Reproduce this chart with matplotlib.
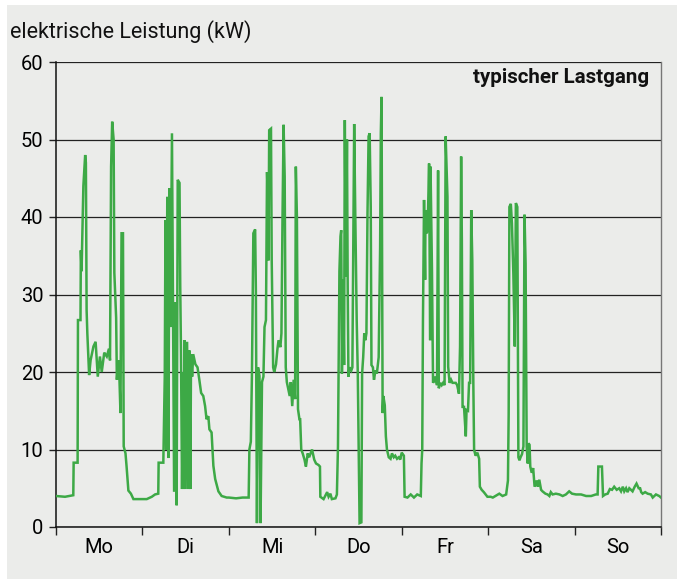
import matplotlib
matplotlib.use("Agg")
import matplotlib.pyplot as plt
from matplotlib.patches import Rectangle

plt.rcParams['font.family'] = ['Roboto', 'DejaVu Sans']

# Wochentage
days = ["Mo", "Di", "Mi", "Do", "Fr", "Sa", "So"]

mo_h = [0.0, 2.5, 4.8, 4.9, 6.0, 6.1, 6.8, 6.9, 7.1, 7.6, 8.1, 8.3, 8.5, 8.7, 9.2, 9.6,
        10.4, 11.0, 11.6, 12.2, 12.7, 13.4, 14.1, 14.7, 15.0, 15.3, 15.6, 16.0, 16.2,
        16.7, 16.9, 17.3, 17.6, 17.9, 18.2, 18.6, 18.8, 19.3, 19.6, 20.1, 20.8, 21.5]
mo_kw = [4.0, 3.9, 4.1, 8.3, 8.3, 26.7, 26.7, 35.7, 33.0, 44.0, 48.0, 47.0, 28.0, 25.0,
         19.6, 21.5, 23.3, 23.9, 19.4, 22.0, 20.0, 22.5, 22.0, 23.0, 21.5, 46.5, 52.3,
         50.0, 32.8, 27.0, 19.0, 21.5, 19.4, 14.7, 37.9, 37.9, 10.4, 9.5, 7.8, 4.7, 4.3, 3.6]

di_h = [24.0, 25.2, 26.6, 27.5, 28.4, 28.5, 29.8, 30.2, 30.4, 30.6, 30.9, 31.2, 31.5,
        31.8, 32.2, 32.6, 32.8, 33.0, 33.2, 33.5, 33.8, 34.3, 34.5, 34.7, 35.0, 35.3,
        35.5, 35.7, 36.0, 36.4, 36.8, 37.0, 37.3, 37.5, 37.8, 38.1, 38.7, 39.3, 39.8,
        40.3, 40.9, 41.4, 41.8, 42.3, 42.6, 43.2, 43.7, 44.2, 45.1, 46.0, 47.4]
di_kw = [3.6, 3.6, 3.9, 4.2, 4.3, 8.3, 8.3, 19.4, 39.6, 10.0, 42.6, 8.9, 43.7, 25.8,
         50.8, 19.6, 4.7, 4.7, 29.0, 2.8, 44.8, 44.4, 31.0, 22.8, 4.9, 20.0, 4.9, 24.1,
         4.9, 23.9, 4.9, 22.8, 4.9, 22.3, 19.4, 22.3, 21.0, 20.6, 19.0, 17.3, 16.9, 15.6,
         13.9, 14.3, 12.6, 12.2, 7.9, 6.2, 4.6, 4.0, 3.8]

mi_h = [48.0, 50.0, 51.8, 53.5, 53.7, 54.1, 54.4, 54.8, 55.3, 55.5, 55.8, 56.1, 56.5,
        56.8, 57.2, 57.6, 57.9, 58.3, 58.6, 58.9, 59.0, 59.2, 59.7, 59.9, 60.3, 60.6,
        61.1, 61.5, 61.8, 62.3, 62.6, 62.9, 63.2, 63.5, 63.8, 64.1, 64.5, 64.9, 65.2,
        65.6, 66.0, 66.4, 66.6, 66.9, 67.2, 67.6, 67.8, 68.1, 68.5, 69.0, 69.4, 69.9,
        70.3, 71.1, 71.7]
mi_kw = [3.8, 3.7, 3.8, 3.8, 10.0, 11.0, 19.4, 37.9, 38.4, 30.6, 0.5, 20.6, 19.5, 0.5,
         18.7, 19.4, 25.8, 26.7, 45.8, 40.9, 34.4, 51.2, 51.4, 34.4, 20.6, 20.0, 21.0,
         23.0, 24.1, 23.2, 25.0, 40.0, 51.9, 45.2, 20.6, 18.7, 17.8, 16.9, 18.7, 15.6,
         19.0, 16.5, 46.5, 40.0, 15.2, 13.9, 13.9, 10.0, 9.5, 8.7, 7.8, 9.5, 9.0, 10.0, 8.7]

do_h = [72.2, 72.9, 73.3, 73.4, 74.3, 75.3, 75.7, 76.2, 76.6, 77.6, 78.0, 78.3, 78.5,
        78.7, 79.0, 79.2, 79.4, 79.7, 80.0, 80.2, 80.5, 80.8, 81.0, 81.2, 81.5, 82.0,
        82.3, 82.6, 82.8, 83.1, 83.5, 83.8, 84.0, 84.3, 84.8, 85.0, 85.3, 85.6, 85.9,
        86.2, 86.5, 86.8, 87.1, 87.4, 87.6, 88.0, 88.3, 88.7, 89.1, 89.6, 90.0, 90.2,
        90.4, 90.7, 90.9, 91.3, 91.6, 91.9, 92.4, 92.9, 93.3, 93.8, 94.2, 94.7, 95.2, 95.6]
do_kw = [8.2, 8.0, 7.8, 3.9, 3.6, 4.5, 3.9, 4.3, 3.6, 3.7, 4.2, 10.4, 21.0, 33.0, 37.5,
         38.3, 19.8, 31.9, 20.9, 52.5, 32.3, 50.0, 31.0, 19.4, 20.6, 20.2, 20.6, 38.7,
         52.0, 40.5, 26.7, 19.8, 12.0, 0.5, 0.6, 19.8, 21.9, 25.0, 24.1, 25.0, 40.5,
         50.4, 50.8, 41.3, 20.9, 20.6, 19.0, 20.2, 19.8, 21.9, 36.0, 50.8, 55.5, 14.7,
         16.9, 15.7, 11.7, 10.0, 9.0, 8.8, 9.5, 9.0, 9.2, 8.8, 9.0, 8.7]

fr_h = [96.0, 96.6, 96.8, 97.6, 98.5, 99.4, 100.3, 101.3, 101.5, 101.7, 101.9, 102.2,
        102.5, 102.6, 102.9, 103.2, 103.6, 103.9, 104.0, 104.4, 104.7, 105.1, 105.4,
        105.8, 106.1, 106.3, 106.7, 107.1, 107.5, 107.9, 108.2, 108.7, 108.9, 109.3,
        109.7, 110.1, 110.5, 111.0, 111.4, 111.9, 112.2, 112.5, 112.7, 112.9, 113.3,
        113.8, 114.0, 114.4, 114.7, 115.0, 115.3, 115.6, 115.9, 116.1, 116.5, 117.0,
        117.5, 117.7, 118.2, 118.8, 119.8]
fr_kw = [9.6, 9.2, 3.9, 3.8, 4.2, 3.8, 4.2, 4.0, 8.2, 10.0, 26.7, 42.2, 31.9, 40.9,
         37.9, 38.3, 46.9, 24.1, 46.5, 33.2, 18.6, 19.0, 19.4, 18.3, 46.0, 17.9, 18.6,
         18.3, 18.6, 18.3, 50.4, 42.6, 20.7, 18.6, 19.0, 18.6, 18.6, 18.6, 18.3, 17.2,
         23.3, 47.8, 37.0, 15.5, 15.5, 11.7, 15.1, 15.0, 18.6, 18.6, 40.9, 34.4, 18.0,
         10.0, 9.2, 9.6, 8.8, 5.2, 4.8, 4.5, 3.9]

sa_h = [120.7, 121.3, 123.1, 124.0, 125.0, 125.5, 125.7, 125.9, 126.3, 126.6, 127.0,
        127.4, 127.7, 128.1, 128.4, 128.7, 129.0, 129.4, 129.8, 130.1, 130.4, 130.7,
        131.0, 131.2, 131.5, 131.7, 132.1, 132.5, 132.9, 133.5, 133.8, 134.2, 134.7,
        135.1, 135.9, 136.5, 137.0, 137.4, 137.9, 138.8, 139.8, 140.7, 141.6, 142.5,
        143.3]
sa_kw = [3.9, 3.8, 4.3, 4.0, 4.2, 6.0, 14.6, 41.3, 41.7, 39.2, 32.7, 23.3, 41.8, 41.3,
         9.0, 8.6, 9.0, 9.4, 10.4, 40.3, 34.0, 10.4, 8.2, 10.8, 10.6, 7.8, 7.0, 7.6, 5.2,
         6.0, 5.2, 6.1, 4.8, 4.6, 4.3, 4.2, 4.0, 4.5, 4.2, 4.3, 4.2, 4.0, 4.2, 4.6, 4.3]

so_h = [144.4, 145.8, 147.2, 148.6, 149.9, 150.4, 150.6, 151.6, 151.9, 152.5, 153.2,
        153.8, 154.4, 155.0, 155.7, 156.4, 156.9, 157.4, 157.8, 158.3, 158.7, 159.2,
        160.1, 160.7, 161.2, 161.8, 162.2, 162.5, 162.9, 163.6, 164.3, 165.2, 165.7,
        166.6, 167.5, 168.0]
so_kw = [4.2, 4.2, 4.0, 4.0, 4.2, 4.2, 7.8, 7.8, 4.0, 4.2, 4.3, 4.9, 4.8, 5.2, 4.8, 5.0,
         4.6, 5.2, 4.6, 5.0, 4.5, 5.0, 4.6, 5.2, 5.6, 5.0, 5.0, 4.5, 4.3, 4.5, 4.3, 4.2,
         3.8, 4.2, 4.0, 3.8]

hours = mo_h + di_h + mi_h + do_h + fr_h + sa_h + so_h
kw = mo_kw + di_kw + mi_kw + do_kw + fr_kw + sa_kw + so_kw

bg = "#ebecea"
green = "#3da946"

fig = plt.figure(figsize=(6.77, 5.79), dpi=100, facecolor="white")
fig.patches.append(Rectangle((7 / 677, 0), 1, 1 - 5 / 579, transform=fig.transFigure,
                             facecolor=bg, edgecolor="none", zorder=-10))
ax = fig.add_axes([56 / 677, 1 - 527 / 579, 605 / 677, 465 / 579])
ax.set_facecolor(bg)
ax.set_zorder(1)

ax.plot(hours, kw, color=green, lw=1.8, solid_joinstyle="miter", zorder=3)

ax.set_xlim(0, 168)
ax.set_ylim(0, 60)
ax.set_yticks(range(0, 61, 10))
ax.yaxis.grid(True, color="#222222", lw=0.9)
ax.set_axisbelow(True)

ax.set_xticks(range(0, 169, 24))
ax.set_xticklabels([])
ax.set_xticks([12 + 24 * i for i in range(7)], minor=True)
ax.set_xticklabels(days, minor=True)
ax.tick_params(axis="x", which="major", length=6, width=1, color="#222222")
ax.tick_params(axis="x", which="minor", length=0, pad=8, labelsize=14.5)
ax.tick_params(axis="y", length=5, width=1, color="#222222", labelsize=14.5, pad=4)

for s in ["left", "bottom"]:
    ax.spines[s].set_color("#111111")
    ax.spines[s].set_linewidth(1.1)
ax.spines["top"].set_visible(False)
ax.spines["right"].set_color("#777777")
ax.spines["right"].set_linewidth(1.0)

fig.text(10 / 677, 1 - 32 / 579, "elektrische Leistung (kW)", fontsize=15.5,
         va="center", ha="left", color="#111111")
ax.text(0.98, 0.987, "typischer Lastgang", transform=ax.transAxes, fontsize=14.8,
        fontweight="bold", ha="right", va="top", color="#111111")

fig.savefig("out.png", dpi=100, facecolor=fig.get_facecolor())
